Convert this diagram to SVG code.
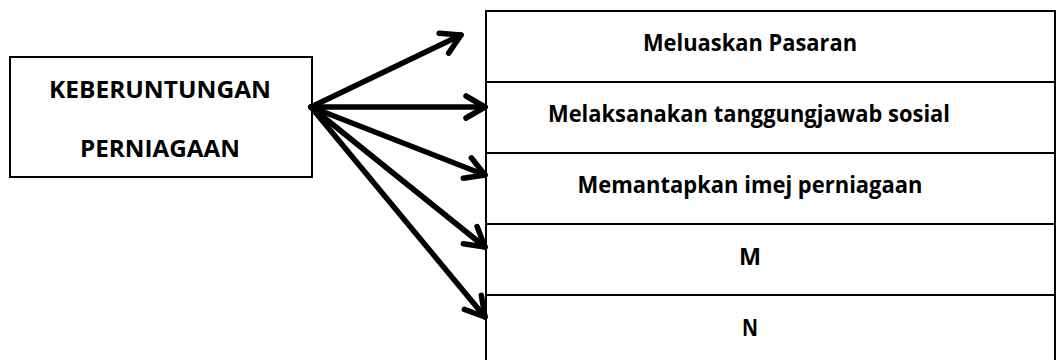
<svg xmlns="http://www.w3.org/2000/svg" width="1057" height="360" viewBox="0 0 1057 360">
<style>
.box{fill:#fff;stroke:#000;stroke-width:2}
.t{font-family:"Open Sans","Liberation Sans",Arial,sans-serif;font-weight:bold;font-size:23px;fill:#000;text-anchor:middle}
.c{stroke:#000;stroke-width:5.5;stroke-linecap:round;fill:none}
</style>
<defs>
<marker id="ah" markerUnits="userSpaceOnUse" markerWidth="34" markerHeight="34" refX="26" refY="16" orient="auto" viewBox="0 0 34 34">
<path d="M7,5 L26,16 L7,27" fill="none" stroke="#000" stroke-width="5.5" stroke-linecap="round" stroke-linejoin="round"/>
</marker>
</defs>
<g id="node-source">
<rect class="box" x="10" y="57" width="302" height="120"/>
<text class="t" x="160" y="98" textLength="222" lengthAdjust="spacingAndGlyphs">KEBERUNTUNGAN</text>
<text class="t" x="160" y="157" textLength="160" lengthAdjust="spacingAndGlyphs">PERNIAGAAN</text>
</g>
<g id="node-1">
<rect class="box" x="486" y="11" width="569" height="71"/>
<text class="t" x="750" y="51" textLength="214" lengthAdjust="spacingAndGlyphs">Meluaskan Pasaran</text>
</g>
<g id="node-2">
<rect class="box" x="486" y="82" width="569" height="71"/>
<text class="t" x="749" y="122" textLength="402" lengthAdjust="spacingAndGlyphs">Melaksanakan tanggungjawab sosial</text>
</g>
<g id="node-3">
<rect class="box" x="486" y="153" width="569" height="71"/>
<text class="t" x="750" y="193" textLength="345" lengthAdjust="spacingAndGlyphs">Memantapkan imej perniagaan</text>
</g>
<g id="node-4">
<rect class="box" x="486" y="224" width="569" height="71"/>
<text class="t" x="750" y="265" textLength="22" lengthAdjust="spacingAndGlyphs">M</text>
</g>
<g id="node-5">
<rect class="box" x="486" y="295" width="569" height="70"/>
<text class="t" x="750" y="336" textLength="16" lengthAdjust="spacingAndGlyphs">N</text>
</g>
<g id="connectors">
<line class="c" x1="311" y1="107" x2="461" y2="35" marker-end="url(#ah)"/>
<line class="c" x1="311" y1="107" x2="485" y2="107" marker-end="url(#ah)"/>
<line class="c" x1="311" y1="107" x2="485" y2="175" marker-end="url(#ah)"/>
<line class="c" x1="311" y1="107" x2="485" y2="247" marker-end="url(#ah)"/>
<line class="c" x1="311" y1="107" x2="485" y2="317" marker-end="url(#ah)"/>
</g>
</svg>
